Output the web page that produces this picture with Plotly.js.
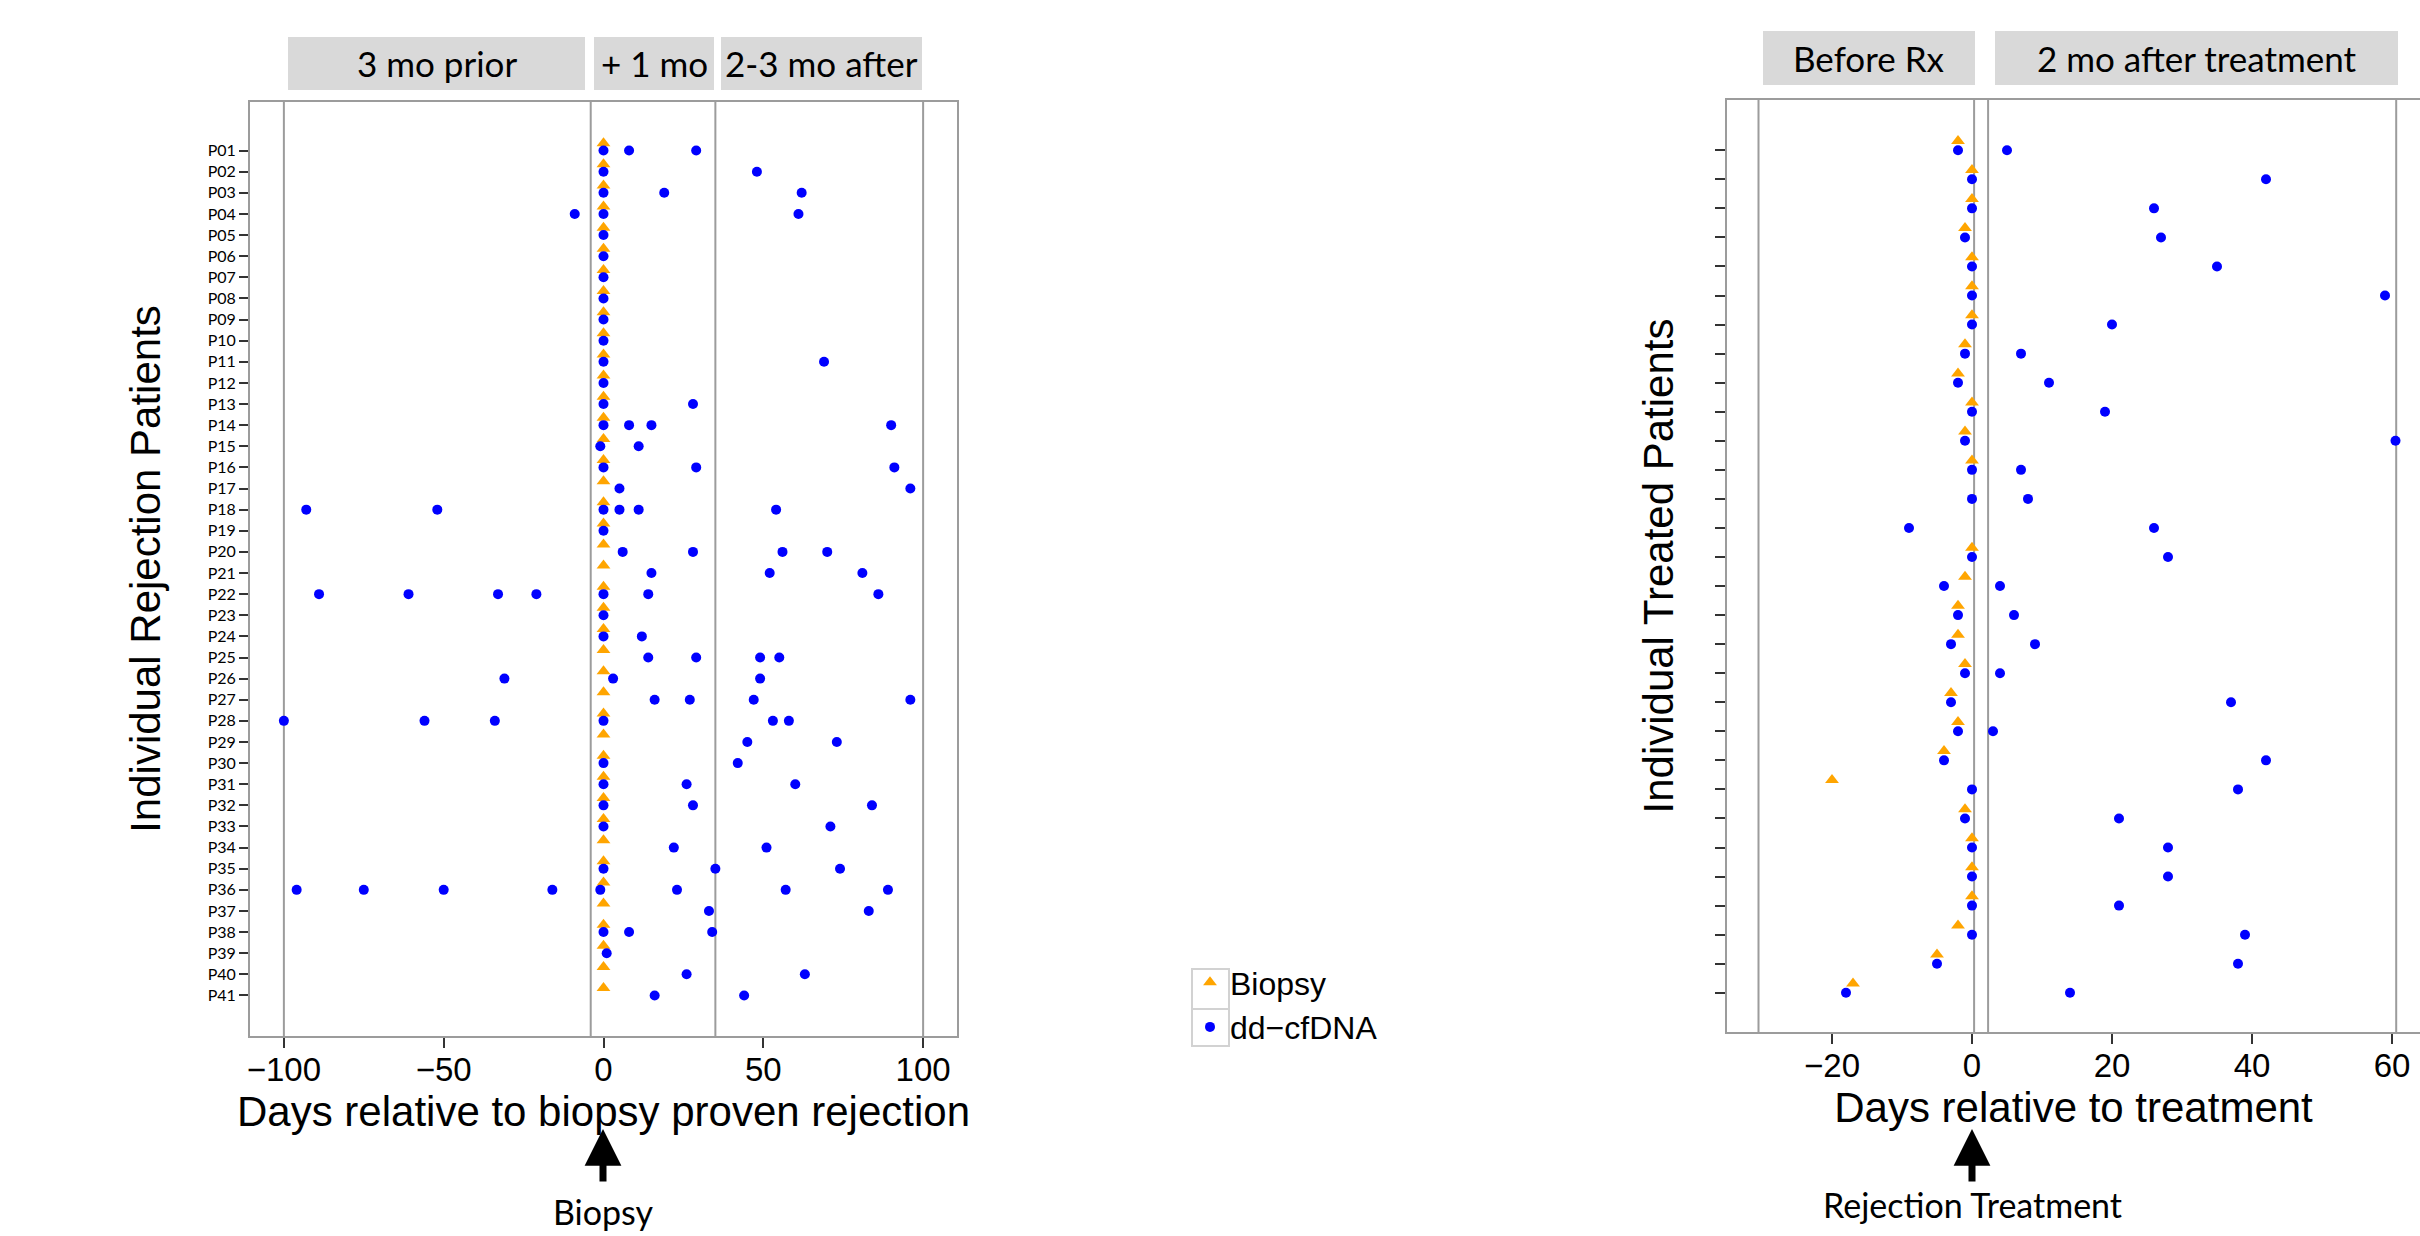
<!DOCTYPE html>
<html>
<head>
<meta charset="utf-8">
<script src="https://cdn.plot.ly/plotly-3.0.1.min.js"></script>
<style>html,body{margin:0;padding:0;background:#fff;}#chart{width:2420px;height:1236px;}</style>
</head>
<body>
<div id="chart"></div>
<script>
// ---------------- DATA ----------------
const leftPatients = ['P01','P02','P03','P04','P05','P06','P07','P08','P09','P10',
  'P11','P12','P13','P14','P15','P16','P17','P18','P19','P20',
  'P21','P22','P23','P24','P25','P26','P27','P28','P29','P30',
  'P31','P32','P33','P34','P35','P36','P37','P38','P39','P40','P41'];
const leftBiopsyDays = [0,0,0,0,0,0,0,0,0,0, 0,0,0,0,0,0,0,0,0,0,
  0,0,0,0,0,0,0,0,0,0, 0,0,0,0,0,0,0,0,0,0,0];
const leftCfdnaDays = [
  [0,8,29],[0,48],[0,19,62],[-9,0,61],[0],[0],[0],[0],[0],[0],
  [0,69],[0],[0,28],[0,8,15,90],[-1,11],[0,29,91],[5,96],[-93,-52,0,5,11,54],[0],[6,28,56,70],
  [15,52,81],[-89,-61,-33,-21,0,14,86],[0],[0,12],[14,29,49,55],[-31,3,49],[16,27,47,96],[-100,-56,-34,0,53,58],[45,73],[0,42],
  [0,26,60],[0,28,84],[0,71],[22,51],[0,35,74],[-96,-75,-50,-16,-1,23,57,89],[33,83],[0,8,34],[1],[26,63],[16,44]
];
const leftWindowBounds = [-100, -4, 35, 100];
const leftWindowLabels = ['3 mo prior', '+ 1 mo', '2-3 mo after'];
const leftXTicks = [-100, -50, 0, 50, 100];

const rightPatients = Array.from({length: 30}, (_, i) => 'T' + String(i + 1).padStart(2, '0'));
const rightBiopsyDays = [-2,0,0,-1,0,0,0,-1,-2,0, -1,0,null,null,0,-1,-2,-2,-1,-3, -2,-4,-20,-1,0,0,0,-2,-5,-17];
const rightCfdnaDays = [
  [-2,5],[0,42],[0,26],[-1,27],[0,35],[0,59],[0,20],[-1,7],[-2,11],[0,19],
  [-1,60.5],[0,7],[0,8],[-9,26],[0,28],[-4,4],[-2,6],[-3,9],[-1,4],[-3,37],
  [-2,3],[-4,42],[0,38],[-1,21],[0,28],[0,28],[0,21],[0,39],[-5,38],[-18,14]
];
const rightWindowBounds = [-30.5, 0.3, 2.3, 60.6];
const rightWindowLabels = ['Before Rx', '2 mo after treatment'];
const rightXTicks = [-20, 0, 20, 40, 60];

// ---------------- HELPERS ----------------
const W = 2420, H = 1236;
const px = p => p / W;
const py = p => 1 - p / H;
const ARIAL = 'Liberation Sans, Arial, sans-serif';
const CALIBRI = 'Lato, Carlito, Calibri, sans-serif';
const ORANGE = '#FFA500', BLUE = '#0000FF';
const LINEGRAY = '#9c9c9c';

function biopsyPoints(days, nudge) {
  const x = [], y = [];
  days.forEach((d, i) => { if (d !== null) { x.push(d); y.push(i + 1 - nudge); } });
  return {x, y};
}
function cfdnaPoints(lists) {
  const x = [], y = [];
  lists.forEach((arr, i) => arr.forEach(d => { x.push(d); y.push(i + 1); }));
  return {x, y};
}

const lb = biopsyPoints(leftBiopsyDays, 0.35);
const lc = cfdnaPoints(leftCfdnaDays);
const rb = biopsyPoints(rightBiopsyDays, 0.32);
const rc = cfdnaPoints(rightCfdnaDays);

const traces = [
  {x: lb.x, y: lb.y, xaxis: 'x', yaxis: 'y', type: 'scatter', mode: 'markers', name: 'Biopsy',
   legendgroup: 'b', marker: {symbol: 'triangle-up', size: 12, color: ORANGE, line: {width: 0}}},
  {x: lc.x, y: lc.y, xaxis: 'x', yaxis: 'y', type: 'scatter', mode: 'markers', name: 'dd\u2212cfDNA',
   legendgroup: 'c', marker: {symbol: 'circle', size: 10, color: BLUE, line: {width: 0}}},
  {x: rb.x, y: rb.y, xaxis: 'x2', yaxis: 'y2', type: 'scatter', mode: 'markers', name: 'Biopsy',
   legendgroup: 'b', showlegend: false, marker: {symbol: 'triangle-up', size: 12, color: ORANGE, line: {width: 0}}},
  {x: rc.x, y: rc.y, xaxis: 'x2', yaxis: 'y2', type: 'scatter', mode: 'markers', name: 'dd\u2212cfDNA',
   legendgroup: 'c', showlegend: false, marker: {symbol: 'circle', size: 10, color: BLUE, line: {width: 0}}}
];

const shapes = [];
const annotations = [];

// window boundary lines
leftWindowBounds.forEach(v => shapes.push({type: 'line', xref: 'x', yref: 'y domain', x0: v, x1: v, y0: 0, y1: 1,
  line: {color: LINEGRAY, width: 2}, layer: 'below'}));
rightWindowBounds.forEach(v => shapes.push({type: 'line', xref: 'x2', yref: 'y2 domain', x0: v, x1: v, y0: 0, y1: 1,
  line: {color: LINEGRAY, width: 2}, layer: 'below'}));

// strip boxes
const leftStripPx = [[288, 585], [594, 714], [721, 922]];
leftWindowLabels.forEach((t, i) => {
  const [a, b] = leftStripPx[i];
  shapes.push({type: 'rect', xref: 'paper', yref: 'paper', x0: px(a), x1: px(b), y0: py(90), y1: py(37),
    fillcolor: '#D9D9D9', line: {width: 0}});
  annotations.push({xref: 'paper', yref: 'paper', x: px((a + b) / 2), y: py(63.5), text: t, showarrow: false,
    font: {family: CALIBRI, size: 35, color: '#000'}, xanchor: 'center', yanchor: 'middle'});
});
const rightStripPx = [[1763, 1975], [1995, 2398]];
rightWindowLabels.forEach((t, i) => {
  const [a, b] = rightStripPx[i];
  shapes.push({type: 'rect', xref: 'paper', yref: 'paper', x0: px(a), x1: px(b), y0: py(85), y1: py(31),
    fillcolor: '#D9D9D9', line: {width: 0}});
  annotations.push({xref: 'paper', yref: 'paper', x: px((a + b) / 2), y: py(58), text: t, showarrow: false,
    font: {family: CALIBRI, size: 35, color: '#000'}, xanchor: 'center', yanchor: 'middle'});
});

// legend key cells
shapes.push({type: 'rect', xref: 'paper', yref: 'paper', x0: px(1192), x1: px(1229), y0: py(1009), y1: py(969),
  line: {color: '#d2d2d2', width: 2}});
shapes.push({type: 'rect', xref: 'paper', yref: 'paper', x0: px(1192), x1: px(1229), y0: py(1046), y1: py(1009),
  line: {color: '#d2d2d2', width: 2}});

// arrows + labels
[[603, 'Biopsy', 1211], [1972, 'Rejection Treatment', 1204]].forEach(([xp, t, ty]) => {
  annotations.push({xref: 'paper', yref: 'paper', x: px(xp), y: py(1129), ax: 0, ay: 54, axref: 'pixel', ayref: 'pixel',
    text: '', showarrow: true, arrowhead: 2, arrowsize: 1.05, arrowwidth: 7, arrowcolor: '#000', standoff: 0, startstandoff: 0});
  annotations.push({xref: 'paper', yref: 'paper', x: px(xp), y: py(ty), text: t, showarrow: false,
    font: {family: CALIBRI, size: 34, color: '#000'}, xanchor: 'center', yanchor: 'middle'});
});

const axisCommon = {
  showgrid: false, zeroline: false, showline: true, linecolor: LINEGRAY, linewidth: 2,
  ticks: 'outside', ticklen: 10, tickwidth: 2, tickcolor: '#333', automargin: false
};

const layout = {
  width: W, height: H,
  margin: {l: 0, r: 0, t: 0, b: 0, pad: 0},
  paper_bgcolor: '#fff', plot_bgcolor: '#fff',
  showlegend: true,
  legend: {x: px(1190), y: py(955), xanchor: 'left', yanchor: 'top', bgcolor: 'rgba(0,0,0,0)',
    font: {family: ARIAL, size: 32, color: '#000'}, borderwidth: 0, tracegroupgap: 0},
  xaxis: Object.assign({}, axisCommon, {
    domain: [px(250), px(957)], range: [-110.6, 110.6], anchor: 'y', mirror: true,
    tickvals: leftXTicks, tickfont: {family: ARIAL, size: 33, color: '#000'}, ticklabelstandoff: -7,
    title: {text: 'Days relative to biopsy proven rejection', font: {family: ARIAL, size: 42, color: '#000'}, standoff: 0}
  }),
  yaxis: Object.assign({}, axisCommon, {
    domain: [py(1036), py(102)], range: [42.92, -1.30], anchor: 'x', mirror: true,
    tickvals: leftPatients.map((_, i) => i + 1), ticktext: leftPatients, ticklen: 9,
    tickfont: {family: CALIBRI, size: 16, color: '#000'},
    title: {text: 'Individual Rejection Patients', font: {family: ARIAL, size: 42, color: '#000'}, standoff: 34}
  }),
  xaxis2: Object.assign({}, axisCommon, {
    domain: [px(1727), 1], range: [-35, 64], anchor: 'y2', mirror: true,
    tickvals: rightXTicks, tickfont: {family: ARIAL, size: 33, color: '#000'}, ticklabelstandoff: -7,
    title: {text: 'Days relative to treatment', font: {family: ARIAL, size: 42, color: '#000'}, standoff: 0}
  }),
  yaxis2: Object.assign({}, axisCommon, {
    domain: [py(1032), py(100)], range: [31.35, -0.73], anchor: 'x2', mirror: false,
    tickvals: rightPatients.map((_, i) => i + 1), ticktext: rightPatients, showticklabels: false, ticklen: 10,
    title: {text: 'Individual Treated Patients', font: {family: ARIAL, size: 42, color: '#000'}, standoff: 28}
  }),
  shapes: shapes,
  annotations: annotations
};

Plotly.newPlot('chart', traces, layout, {staticPlot: true, displayModeBar: false});
</script>
</body>
</html>
